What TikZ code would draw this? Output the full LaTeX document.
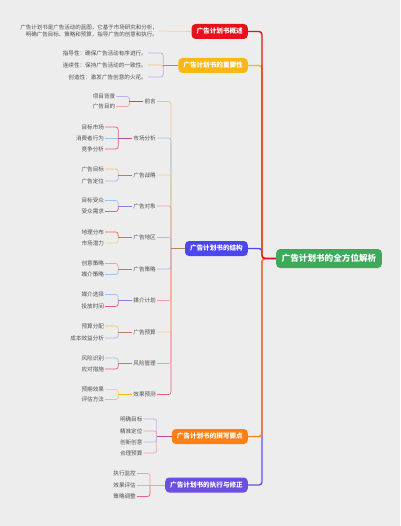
\documentclass[tikz,border=0pt]{standalone}
\usepackage{fontspec}
\newfontfamily\cjk{Noto Sans CJK SC}
\usetikzlibrary{positioning}

\definecolor{bgc}{HTML}{EDEDED}
\definecolor{rootc}{HTML}{3DA95B}
\definecolor{ovc}{HTML}{E8101A}
\definecolor{impc}{HTML}{FBB713}
\definecolor{strc}{HTML}{4B46EE}
\definecolor{wrc}{HTML}{FF7F10}
\definecolor{exc}{HTML}{6B4FE3}
\definecolor{txtc}{HTML}{505050}
\definecolor{lnor}{HTML}{F3BE85}
\definecolor{lnbl}{HTML}{98C4EE}
\definecolor{lnye}{HTML}{F4D57E}
\definecolor{lnpk}{HTML}{F2A0A6}
\definecolor{lnla}{HTML}{BBAEEC}
\definecolor{lnrd}{HTML}{E8607A}
\definecolor{lnmg}{HTML}{B04C9C}
\definecolor{lnpu}{HTML}{9A7AD8}
\definecolor{lnbr}{HTML}{B98060}
\definecolor{lnco}{HTML}{E86A50}

\tikzset{
  rootbox/.style={fill=rootc, rounded corners=4bp, text=white,
    font=\cjk\bfseries\fontsize{8.6bp}{9bp}\selectfont,
    minimum height=19bp, inner xsep=5.5bp, inner ysep=0bp},
  mainbox/.style={rounded corners=4bp, text=white,
    font=\cjk\bfseries\fontsize{6.6bp}{7bp}\selectfont,
    minimum height=15bp, inner xsep=5bp, inner ysep=0bp, anchor=east},
  item/.style={font=\cjk\fontsize{5.6bp}{6.4bp}\selectfont, text=txtc,
    inner sep=1bp, anchor=east},
  trunk/.style={line width=1.4bp, rounded corners=3bp},
  twig/.style={line width=0.7bp, rounded corners=2.5bp},
}

\begin{document}
\begin{tikzpicture}[x=1bp, y=-1bp]

% Background
\fill[bgc] (0,0) rectangle (400,526);
\useasboundingbox (0,0) rectangle (400,526);

% Root and main branches
\node[rootbox] (root) at (329,258.5) {广告计划书的全方位解析};
\coordinate (jR) at (262,258.5);

\node[mainbox, fill=ovc] (ov) at (248,31.5) {广告计划书概述};
\node[mainbox, fill=impc] (imp) at (248,65.5) {广告计划书的重要性};
\node[mainbox, fill=strc] (str) at (248,248.5) {广告计划书的结构};
\node[mainbox, fill=wrc] (wr) at (248,436.5) {广告计划书的撰写要点};
\node[mainbox, fill=exc] (ex) at (248,485) {广告计划书的执行与修正};

\draw[trunk, exc] (root.west) -- (jR) |- (ex.east);
\draw[trunk, wrc] (root.west) -- (jR) |- (wr.east);
\draw[trunk, strc] (root.west) -- (jR) |- (str.east);
\draw[trunk, impc] (root.west) -- (jR) |- (imp.east);
\draw[trunk, ovc] (root.west) -- (jR) |- (ov.east);

% Overview
\node[item, align=right, font=\cjk\fontsize{5.5bp}{6.2bp}\selectfont] (ovt) at (159,31)
  {广告计划书是广告活动的蓝图，它基于市场研究和分析，\\明确广告目标、策略和预算，指导广告的创意和执行。};
\draw[twig, lnye] (ovt.east) -- (ov.west);

% Importance
\coordinate[left=15bp of imp] (jI);
\node[item] (i1) at (148,53) {指导性：确保广告活动有序进行。};
\node[item] (i2) at (148,65) {连续性：保持广告活动的一致性。};
\node[item] (i3) at (148,77) {创造性：激发广告创意的火花。};
\draw[twig, lnla] (jI) |- (i1.east);
\draw[twig, lnla] (jI) |- (i3.east);
\draw[twig, lnor] (jI) |- (i2.east);
\draw[twig, lnpu] (imp.west) -- (jI);

% Structure
\coordinate (jS) at (171,248.5);
\node[item] (s1) at (157,101.5) {前言};
\node[item] (s2) at (157,138) {市场分析};
\node[item] (s3) at (157,175) {广告战略};
\node[item] (s4) at (157,206) {广告对象};
\node[item] (s5) at (157,237.5) {广告地区};
\node[item] (s6) at (157,269) {广告策略};
\node[item] (s7) at (157,300.5) {媒介计划};
\node[item] (s8) at (157,332) {广告预算};
\node[item] (s9) at (157,363.5) {风险管理};
\node[item] (s10) at (157,394.5) {效果预测};

\foreach \n/\c in {s1/lnor, s2/lnbl, s3/lnye, s4/lnpk, s5/lnbl,
                   s10/lnrd, s9/lnpk, s8/lnye, s7/lnpk, s6/lnla}
  \draw[twig, \c] (jS) |- (\n.east);
\draw[twig, lnbr] (str.west) -- (jS);

% Structure, details
\coordinate[left=14bp of s1] (b1);
\node[item] (s1a) at ([xshift=-13bp, yshift=5bp]b1) {项目背景};
\node[item] (s1b) at ([xshift=-13bp, yshift=-5bp]b1) {广告目的};
\draw[twig, lnla] (b1) |- (s1a.east);
\draw[twig, lnpk] (b1) |- (s1b.east);
\draw[twig, lnmg] (s1.west) -- (b1);

\coordinate[left=14bp of s2] (b2);
\node[item] (s2a) at ([xshift=-13bp, yshift=11bp]b2) {目标市场};
\node[item] (s2b) at ([xshift=-13bp]b2) {消费者行为};
\node[item] (s2c) at ([xshift=-13bp, yshift=-11bp]b2) {竞争分析};
\draw[twig, lnrd] (b2) |- (s2a.east);
\draw[twig, lnrd] (b2) |- (s2c.east);
\draw[twig, lnbl] (b2) -- (s2b.east);
\draw[twig, lnmg] (s2.west) -- (b2);

\coordinate[left=14bp of s3] (b3);
\node[item] (s3a) at ([xshift=-13bp, yshift=6bp]b3) {广告目标};
\node[item] (s3b) at ([xshift=-13bp, yshift=-6bp]b3) {广告定位};
\draw[twig, lnor] (b3) |- (s3a.east);
\draw[twig, lnla] (b3) |- (s3b.east);
\draw[twig, lnrd] (s3.west) -- (b3);

\coordinate[left=14bp of s4] (b4);
\node[item] (s4a) at ([xshift=-13bp, yshift=5.5bp]b4) {目标受众};
\node[item] (s4b) at ([xshift=-13bp, yshift=-5.5bp]b4) {受众需求};
\draw[twig, lnbl] (b4) |- (s4a.east);
\draw[twig, lnrd] (b4) |- (s4b.east);
\draw[twig, lnpu] (s4.west) -- (b4);

\coordinate[left=14bp of s5] (b5);
\node[item] (s5a) at ([xshift=-13bp, yshift=5.5bp]b5) {地理分布};
\node[item] (s5b) at ([xshift=-13bp, yshift=-5.5bp]b5) {市场潜力};
\draw[twig, lnco] (b5) |- (s5a.east);
\draw[twig, lnye] (b5) |- (s5b.east);
\draw[twig, lnco] (s5.west) -- (b5);

\coordinate[left=14bp of s6] (b6);
\node[item] (s6a) at ([xshift=-13bp, yshift=5.5bp]b6) {创意策略};
\node[item] (s6b) at ([xshift=-13bp, yshift=-5.5bp]b6) {媒介策略};
\draw[twig, lnpk] (b6) |- (s6a.east);
\draw[twig, lnbl] (b6) |- (s6b.east);
\draw[twig, lnrd] (s6.west) -- (b6);

\coordinate[left=14bp of s7] (b7);
\node[item] (s7a) at ([xshift=-13bp, yshift=6bp]b7) {媒介选择};
\node[item] (s7b) at ([xshift=-13bp, yshift=-6bp]b7) {投放时间};
\draw[twig, lnbl] (b7) |- (s7a.east);
\draw[twig, lnrd] (b7) |- (s7b.east);
\draw[twig, lnpu] (s7.west) -- (b7);

\coordinate[left=14bp of s8] (b8);
\node[item] (s8a) at ([xshift=-13bp, yshift=6bp]b8) {预算分配};
\node[item] (s8b) at ([xshift=-13bp, yshift=-6bp]b8) {成本效益分析};
\draw[twig, lnor] (b8) |- (s8a.east);
\draw[twig, lnla] (b8) |- (s8b.east);
\draw[twig, lnbr] (s8.west) -- (b8);

\coordinate[left=14bp of s9] (b9);
\node[item] (s9a) at ([xshift=-13bp, yshift=5.5bp]b9) {风险识别};
\node[item] (s9b) at ([xshift=-13bp, yshift=-5.5bp]b9) {应对措施};
\draw[twig, lnbl] (b9) |- (s9a.east);
\draw[twig, lnrd] (b9) |- (s9b.east);
\draw[twig, lnpu] (s9.west) -- (b9);

\coordinate[left=14bp of s10] (b10);
\node[item] (s10a) at ([xshift=-13bp, yshift=5bp]b10) {预期效果};
\node[item] (s10b) at ([xshift=-13bp, yshift=-5bp]b10) {评估方法};
\draw[twig, lnye] (b10) |- (s10a.east);
\draw[twig, lnor] (b10) |- (s10b.east);
\draw[twig, impc] (s10.west) -- (b10);

% Writing points
\coordinate[left=15bp of wr] (jW);
\node[item] (w1) at ([xshift=-13bp, yshift=17.5bp]jW) {明确目标};
\node[item] (w2) at ([xshift=-13bp, yshift=5.5bp]jW) {精准定位};
\node[item] (w3) at ([xshift=-13bp, yshift=-5.5bp]jW) {创新创意};
\node[item] (w4) at ([xshift=-13bp, yshift=-16.5bp]jW) {合理预算};
\draw[twig, lnla] (jW) |- (w1.east);
\draw[twig, lnpk] (jW) |- (w4.east);
\draw[twig, lnpk] (jW) |- (w2.east);
\draw[twig, lnbl] (jW) |- (w3.east);
\draw[twig, lnmg] (wr.west) -- (jW);

% Execution
\coordinate[left=15bp of ex] (jE);
\node[item] (e1) at ([xshift=-13bp, yshift=11.5bp]jE) {执行监控};
\node[item] (e2) at ([xshift=-13bp]jE) {效果评估};
\node[item] (e3) at ([xshift=-13bp, yshift=-11.5bp]jE) {策略调整};
\draw[twig, lnpk] (jE) |- (e1.east);
\draw[twig, lnrd] (jE) |- (e3.east);
\draw[twig, lnbl] (jE) -- (e2.east);
\draw[twig, lnpk] (ex.west) -- (jE);

\end{tikzpicture}
\end{document}
